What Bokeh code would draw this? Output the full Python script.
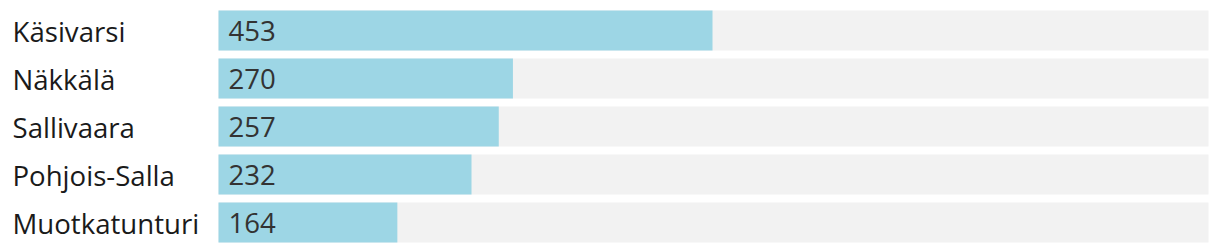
from bokeh.plotting import figure
from bokeh.models import ColumnDataSource, Range1d
from bokeh.core.properties import value
from bokeh.embed import file_html
from bokeh.resources import INLINE

regions = ["Käsivarsi", "Näkkälä", "Sallivaara", "Pohjois-Salla", "Muotkatunturi"]
counts = [453, 270, 257, 232, 164]

W, H = 1220, 252
left_px = 218
px_per_unit = 1.0905
bg_end = (1208 - left_px) / px_per_unit

n = len(regions)
ys = [n - 1 - i + 0.5 for i in range(n)]

src = ColumnDataSource(dict(
    y=ys, cnt=counts, lab=regions, txt=[str(c) for c in counts],
    bg=[bg_end] * n, zero=[0] * n,
))

p = figure(width=W, height=H, output_backend="svg", toolbar_location=None,
           x_range=Range1d(-left_px / px_per_unit, (W - left_px) / px_per_unit),
           y_range=Range1d(0, n),
           min_border_left=0, min_border_right=0, min_border_top=6, min_border_bottom=6)
p.axis.visible = False
p.grid.visible = False
p.outline_line_color = None
p.background_fill_color = "white"

bh = 40 / 48
p.hbar(y="y", left="zero", right="bg", height=bh, source=src, fill_color="#f2f2f2", line_color=None)
p.hbar(y="y", left="zero", right="cnt", height=bh, source=src, fill_color="#9dd6e5", line_color=None)

p.text(x="zero", y="y", text="lab", source=src, x_offset=-206, text_align="left", text_baseline="middle",
       text_font=value("Open Sans"), text_font_size="27.6px", text_color="#1a1a1a")
p.text(x="zero", y="y", text="txt", source=src, x_offset=10, text_align="left", text_baseline="middle",
       text_font=value("Open Sans"), text_font_size="27.6px", text_color="#333333")

open("out.html", "w").write(file_html(p, INLINE))
